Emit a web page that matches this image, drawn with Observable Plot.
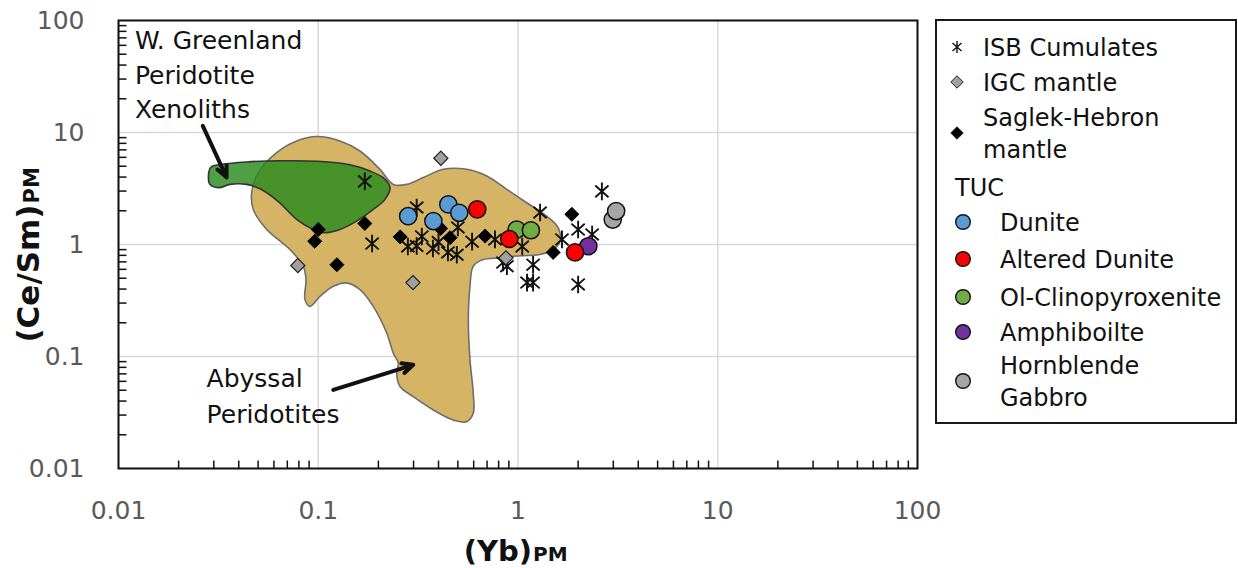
<!DOCTYPE html>
<html><head><meta charset="utf-8">
<script src="https://cdn.jsdelivr.net/npm/d3@7"></script>
<script src="https://cdn.jsdelivr.net/npm/@observablehq/plot@0.6"></script>
<style>body{margin:0;background:#fff;} #chart{width:1238px;height:568px;}</style>
</head><body><div id="chart"></div>
<script>
// ---- axis ticks ----
const xTicks = [0.01, 0.1, 1, 10, 100];
const xTickLabels = ["0.01", "0.1", "1", "10", "100"];
const yTicks = [0.01, 0.1, 1, 10, 100];
const yTickLabels = ["0.01", "0.1", "1", "10", "100"];
const minorDecades = [0.01, 0.1, 1, 10];
const minorSteps = [2, 3, 4, 5, 6, 7, 8, 9];
const minorTicks = minorDecades.flatMap(d => minorSteps.map(s => +(d * s).toPrecision(3)));

// ---- data: [(Yb)PM, (Ce/Sm)PM] ----
const isbCumulates = [[0.171,3.66],[0.186,1.02],[0.311,2.14],[0.281,0.96],[0.311,0.97],[0.33,1.18],[0.375,0.92],[0.40,1.05],[0.446,0.85],[0.494,0.81],[0.50,1.42],[0.589,1.06],[0.767,1.11],[0.841,0.69],[0.88,0.64],[1.05,0.96],[1.29,1.93],[1.19,0.66],[1.11,0.457],[1.19,0.457],[1.66,1.11],[2.0,1.36],[2.0,0.44],[2.35,1.23],[2.63,2.98]];
const igcMantle = [[0.411,5.89],[0.079,0.65],[0.298,0.457],[0.87,0.76]];
const saglekHebron = [[0.100,1.36],[0.096,1.07],[0.171,1.54],[0.124,0.66],[0.257,1.17],[0.457,1.15],[0.41,1.39],[0.684,1.19],[1.86,1.86],[1.5,0.85]];
const tucDunite = [[0.282,1.79],[0.377,1.62],[0.448,2.28],[0.508,1.92]];
const tucAlteredDunite = [[0.625,2.06],[0.905,1.12],[1.93,0.85]];
const tucOlClinopyroxenite = [[0.985,1.36],[1.16,1.34]];
const tucAmphibolite = [[2.25,0.965]];
const tucHornblendeGabbro = [[2.98,1.67],[3.1,1.99]];

// ---- fields (outlines) ----
const abyssalField = [[0.0982,9.21],[0.1284,8.41],[0.1618,6.84],[0.2037,4.69],[0.2374,3.44],[0.2772,3.44],[0.3357,3.96],[0.4226,4.69],[0.5535,4.69],[0.697,4.09],[0.878,3.11],[1.105,2.36],[1.392,1.79],[1.591,1.41],[1.623,1.07],[1.502,0.902],[1.289,0.814],[0.947,0.786],[0.813,0.760],[0.670,0.734],[0.597,0.640],[0.575,0.423],[0.564,0.213],[0.575,0.0934],[0.597,0.0470],[0.597,0.0311],[0.5535,0.0262],[0.474,0.0271],[0.377,0.0333],[0.299,0.0438],[0.2566,0.0539],[0.247,0.0710],[0.2516,0.0873],[0.2374,0.1072],[0.2202,0.1620],[0.1885,0.2805],[0.1618,0.3955],[0.1387,0.454],[0.1189,0.4235],[0.102,0.344],[0.0909,0.2805],[0.0858,0.322],[0.0868,0.486],[0.0841,0.640],[0.0722,0.902],[0.0552,1.362],[0.0473,2.057],[0.0464,2.90],[0.0501,4.38],[0.0619,6.62],[0.0780,8.41]];
const greenlandField = [[0.0282,4.10],[0.0290,4.89],[0.0330,5.20],[0.0438,5.46],[0.0643,5.59],[0.0996,5.53],[0.1442,5.15],[0.1815,4.53],[0.2133,3.90],[0.2286,3.22],[0.2158,2.53],[0.1885,2.057],[0.1556,1.617],[0.1284,1.362],[0.1059,1.273],[0.0944,1.362],[0.0791,1.64],[0.0629,2.43],[0.0516,3.11],[0.0438,3.44],[0.0361,3.44],[0.0322,3.22],[0.0287,3.44]];

// ---- annotations ----
const annotations = [
  {text: "W. Greenland\nPeridotite\nXenoliths", x: 0.01208, y: 13.35, lh: 1.38},
  {text: "Abyssal\nPeridotites", x: 0.0276, y: 0.02535, lh: 1.44}
];
const arrows = [
  {x1: 0.02642, y1: 11.46, x2: 0.03475, y2: 3.98},
  {x1: 0.1189, y1: 0.0503, x2: 0.299, y2: 0.0843}
];

// ---- legend ----
const legendItems = [
  {lines: ["ISB Cumulates"], sym: "asterisk", fill: "none"},
  {lines: ["IGC mantle"], sym: "diamond", fill: "#a0a0a0"},
  {lines: ["Saglek-Hebron", "mantle"], sym: "diamond", fill: "#000"},
  {lines: ["TUC"], sym: null},
  {lines: ["Dunite"], sym: "circle", fill: "#5b9bd5"},
  {lines: ["Altered Dunite"], sym: "circle", fill: "#ff0000"},
  {lines: ["Ol-Clinopyroxenite"], sym: "circle", fill: "#70ad47"},
  {lines: ["Amphiboilte"], sym: "circle", fill: "#7030a0"},
  {lines: ["Hornblende", "Gabbro"], sym: "circle", fill: "#a5a5a5"}
];

const asteriskSym = {draw(ctx, size) {
  const r = Math.sqrt(size / Math.PI);
  ctx.moveTo(0, -r); ctx.lineTo(0, r);
  const a = r * 0.75, b = r * 0.66;
  ctx.moveTo(-a, -b); ctx.lineTo(a, b);
  ctx.moveTo(-a, b); ctx.lineTo(a, -b);
}};
const tickUp = {draw(ctx) { ctx.moveTo(0, 0); ctx.lineTo(0, -8); }};
const tickRight = {draw(ctx) { ctx.moveTo(0, 0); ctx.lineTo(8, 0); }};

const px = d => d[0], py = d => d[1];
const circ = (data, fill) => Plot.dot(data, {x: px, y: py, r: 8.6, fill, stroke: "#111", strokeWidth: 1.5});

const plot = Plot.plot({
  width: 1238, height: 568,
  marginLeft: 118, marginRight: 321, marginTop: 20, marginBottom: 100,
  style: {fontFamily: "'DejaVu Sans', sans-serif", fontSize: "25px", color: "#5a5a5a", background: "white", overflow: "visible"},
  x: {type: "log", domain: [0.01, 100], ticks: xTicks, tickFormat: d => xTickLabels[xTicks.indexOf(d)], tickSize: 0, tickPadding: 33, label: null},
  y: {type: "log", domain: [0.01, 100], ticks: yTicks, tickFormat: d => yTickLabels[yTicks.indexOf(d)], tickSize: 0, tickPadding: 34, label: null},
  marks: [
    Plot.ruleX(xTicks, {stroke: "#d9d9d9", strokeWidth: 1.5}),
    Plot.ruleY(yTicks, {stroke: "#d9d9d9", strokeWidth: 1.5}),
    Plot.line(abyssalField, {x: px, y: py, curve: "catmull-rom-closed", fill: "#d5b466", stroke: "#6e6e6e", strokeWidth: 1.6}),
    Plot.line(greenlandField, {x: px, y: py, curve: "catmull-rom-closed", fill: "#278a1c", fillOpacity: 0.82, stroke: "#333", strokeWidth: 1.6}),
    Plot.dot(isbCumulates, {x: px, y: py, r: 8.8, symbol: asteriskSym, fill: "none", stroke: "#111", strokeWidth: 1.9}),
    Plot.dot(igcMantle, {x: px, y: py, r: 6.4, symbol: "diamond2", fill: "#a0a0a0", stroke: "#222", strokeWidth: 1.2}),
    Plot.dot(saglekHebron, {x: px, y: py, r: 6.3, symbol: "diamond2", fill: "#000", stroke: "#000", strokeWidth: 1}),
    circ(tucHornblendeGabbro, "#a5a5a5"),
    circ(tucAmphibolite, "#7030a0"),
    circ(tucOlClinopyroxenite, "#70ad47"),
    circ(tucDunite, "#5b9bd5"),
    circ(tucAlteredDunite, "#ff0000"),
    Plot.dotX(minorTicks, {frameAnchor: "bottom", symbol: tickUp, fill: "none", stroke: "#111", strokeWidth: 1.5}),
    Plot.dotY(minorTicks, {frameAnchor: "left", symbol: tickRight, fill: "none", stroke: "#111", strokeWidth: 1.5}),
    Plot.frame({stroke: "#111", strokeWidth: 2}),
    Plot.arrow(arrows, {x1: "x1", y1: "y1", x2: "x2", y2: "y2", stroke: "#111", strokeWidth: 4, headLength: 4.5, headAngle: 50}),
    ...annotations.map(a => Plot.text([a], {x: "x", y: "y", text: "text", textAnchor: "start", lineAnchor: "bottom", lineHeight: a.lh, fontSize: 25, fill: "#111", fontFamily: "'DejaVu Sans', sans-serif"})),
    // axis titles
    Plot.text(["(Yb)"], {frameAnchor: "bottom", dx: 14, dy: 92, textAnchor: "end", lineAnchor: "bottom", fontSize: 29, fontWeight: "bold", fill: "#111", fontFamily: "'DejaVu Sans', sans-serif"}),
    Plot.text(["PM"], {frameAnchor: "bottom", dx: 15, dy: 92, textAnchor: "start", lineAnchor: "bottom", fontSize: 20, fontWeight: "bold", fill: "#111", fontFamily: "'DejaVu Sans', sans-serif"}),
    Plot.text(["(Ce/Sm)"], {frameAnchor: "left", dx: -80, dy: -40, rotate: -90, textAnchor: "end", lineAnchor: "bottom", fontSize: 31, fontWeight: "bold", fill: "#111", fontFamily: "'DejaVu Sans', sans-serif"}),
    Plot.text(["PM"], {frameAnchor: "left", dx: -80, dy: -41, rotate: -90, textAnchor: "start", lineAnchor: "bottom", fontSize: 21, fontWeight: "bold", fill: "#111", fontFamily: "'DejaVu Sans', sans-serif"})
  ]
});

// legend drawn into the same svg
const svg = d3.select(plot);
const lg = svg.append("g").attr("font-family", "'DejaVu Sans', sans-serif").attr("font-size", 24).attr("fill", "#111").attr("text-anchor", "start");
lg.append("rect").attr("x", 936).attr("y", 20).attr("width", 300).attr("height", 403).attr("fill", "white").attr("stroke", "#1a1a1a").attr("stroke-width", 2);
const rowTop = [47, 82, 117, 187, 222, 259, 297, 332, 365];
const lineGap = 32;
legendItems.forEach((it, i) => {
  const y0 = rowTop[i];
  const symY = y0 + (it.lines.length - 1) * lineGap / 2;
  const isTuc = i >= 4;
  const textX = it.sym === null ? 955 : (isTuc ? 1000 : 983);
  it.lines.forEach((ln, j) => {
    lg.append("text").attr("x", textX).attr("y", y0 + j * lineGap).attr("dy", "0.36em").attr("text-anchor", "start").text(ln);
  });
  if (it.sym === "asterisk") {
    lg.append("path").attr("transform", `translate(957,${symY})`).attr("d", d3.symbol(asteriskSym, Math.PI * 6 * 6)()).attr("fill", "none").attr("stroke", "#111").attr("stroke-width", 1.4);
  } else if (it.sym === "diamond") {
    lg.append("path").attr("transform", `translate(957,${symY})`).attr("d", d3.symbol(d3.symbolDiamond2, Math.PI * 5.6 * 5.6)()).attr("fill", it.fill).attr("stroke", "#222").attr("stroke-width", 1);
  } else if (it.sym === "circle") {
    lg.append("circle").attr("cx", 963).attr("cy", symY).attr("r", 7.3).attr("fill", it.fill).attr("stroke", "#111").attr("stroke-width", 1.4);
  }
});

document.getElementById("chart").appendChild(plot);
</script>
</body></html>
